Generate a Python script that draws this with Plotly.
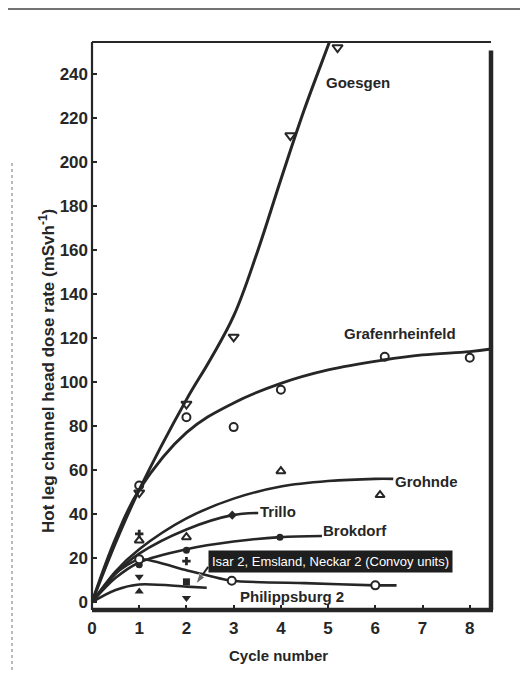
import plotly.graph_objects as go

# ---- data ----
# fitted curves
goesgen_cx = [0, 0.5, 1, 2, 2.5, 3, 3.5, 4, 4.5, 5.02, 5.12]
goesgen_cy = [0, 27, 51, 92, 110, 130, 159, 192, 224, 254, 260]
graf_cx = [0, 0.5, 1, 2, 3, 4, 5, 6.17, 7, 8, 8.45]
graf_cy = [0, 29, 51, 77, 90.5, 99.4, 105.5, 110, 112.3, 113.8, 115]
grohnde_cx = [0, 0.5, 1, 2, 3, 4, 5, 6, 6.38]
grohnde_cy = [0, 14, 24, 38, 47, 52.5, 55, 56, 56]
trillo_cx = [0, 0.5, 1, 2, 2.97, 3.52]
trillo_cy = [0, 13, 22, 33, 39.5, 40.5]
brokdorf_cx = [0, 0.5, 1, 2, 3, 3.98, 4.87]
brokdorf_cy = [0, 11, 18, 24, 27.5, 29.5, 30]
phil_cx = [0, 0.5, 1, 2, 2.96, 4.5, 6.0, 6.45]
phil_cy = [0, 13, 19.5, 14.5, 9.7, 8.6, 7.6, 7.6]
convoy_cx = [0, 0.5, 1, 2, 2.43]
convoy_cy = [0, 5.5, 8, 7, 6.5]

# measured points
goesgen_x = [1, 2, 3, 4.2, 5.2]
goesgen_y = [49.7, 90, 120.5, 212, 252]
graf_x = [1, 2, 3, 4, 6.2, 8.0]
graf_y = [53, 84, 79.5, 96.5, 111.5, 111]
grohnde_x = [1, 2, 4, 6.1]
grohnde_y = [28, 29.5, 59.5, 48.6]
trillo_x = [2.97]
trillo_y = [39.5]
brokdorf_x = [1, 2, 3.98]
brokdorf_y = [17, 23.5, 29.5]
phil_x = [1, 2.96, 6.0]
phil_y = [19.5, 9.7, 7.6]
convoy_down_x = [1, 2]
convoy_down_y = [11.5, 1.8]
convoy_up_x = [1]
convoy_up_y = [4.8]
convoy_sq_x = [2]
convoy_sq_y = [9.2]
convoy_plus_x = [1, 2]
convoy_plus_y = [31, 18.6]

series_labels = ["Goesgen", "Grafenrheinfeld", "Grohnde", "Trillo", "Brokdorf",
                 "Philippsburg 2", "Isar 2, Emsland, Neckar 2 (Convoy units)"]
label_x = [5.64, 6.53, 7.08, 3.94, 5.57, 4.23, 5.06]
label_y = [236, 122, 55, 41, 32.3, 2.4, 18.3]
# pointer from the convoy label box to the convoy curve (tail, head)
pointer_x = [2.46, 2.2]
pointer_y = [16.0, 8.2]

x_ticks = [0, 1, 2, 3, 4, 5, 6, 7, 8]
y_ticks = list(range(0, 241, 20))

INK = "#262626"
FONT = "Liberation Sans, Arial, sans-serif"

fig = go.Figure()

def curve(x, y, w=2.6, smooth=0.9):
    fig.add_trace(go.Scatter(x=x, y=y, mode="lines",
                             line=dict(color=INK, width=w, shape="spline", smoothing=smooth),
                             hoverinfo="skip", showlegend=False))

curve(goesgen_cx, goesgen_cy, w=3, smooth=1.1)
curve(graf_cx, graf_cy, w=2.8, smooth=1.1)
curve(grohnde_cx, grohnde_cy)
curve(trillo_cx, trillo_cy)
curve(brokdorf_cx, brokdorf_cy)
curve(phil_cx, phil_cy, smooth=0.6)
curve(convoy_cx, convoy_cy)

fig.add_trace(go.Scatter(x=goesgen_x, y=goesgen_y, mode="markers",
                         marker=dict(symbol="triangle-down-open", size=9, color=INK, line=dict(width=2)),
                         showlegend=False, cliponaxis=False))
fig.add_trace(go.Scatter(x=graf_x, y=graf_y, mode="markers",
                         marker=dict(symbol="circle-open", size=8, color=INK, line=dict(width=2)),
                         showlegend=False))
fig.add_trace(go.Scatter(x=grohnde_x, y=grohnde_y, mode="markers",
                         marker=dict(symbol="triangle-up-open", size=8, color=INK, line=dict(width=2)),
                         showlegend=False))
fig.add_trace(go.Scatter(x=trillo_x, y=trillo_y, mode="markers",
                         marker=dict(symbol="diamond", size=7, color=INK),
                         showlegend=False))
fig.add_trace(go.Scatter(x=brokdorf_x, y=brokdorf_y, mode="markers",
                         marker=dict(symbol="circle", size=7, color=INK),
                         showlegend=False))
fig.add_trace(go.Scatter(x=phil_x, y=phil_y, mode="markers",
                         marker=dict(symbol="circle", size=8, color="white", line=dict(color=INK, width=2)),
                         showlegend=False))
fig.add_trace(go.Scatter(x=convoy_down_x, y=convoy_down_y, mode="markers",
                         marker=dict(symbol="triangle-down", size=8, color=INK),
                         showlegend=False))
fig.add_trace(go.Scatter(x=convoy_up_x, y=convoy_up_y, mode="markers",
                         marker=dict(symbol="triangle-up", size=8, color=INK),
                         showlegend=False))
fig.add_trace(go.Scatter(x=convoy_sq_x, y=convoy_sq_y, mode="markers",
                         marker=dict(symbol="square", size=7, color=INK),
                         showlegend=False))
fig.add_trace(go.Scatter(x=convoy_plus_x, y=convoy_plus_y, mode="markers",
                         marker=dict(symbol="cross", size=7, color=INK),
                         showlegend=False))
# pointer arrow
fig.add_trace(go.Scatter(x=pointer_x, y=pointer_y, mode="lines+markers",
                         line=dict(color=INK, width=2),
                         marker=dict(symbol=["circle", "arrow"], size=[0, 11], color=INK,
                                     angleref="previous", standoff=0),
                         hoverinfo="skip", showlegend=False))

annotations = []
for i in range(6):
    annotations.append(dict(x=label_x[i], y=label_y[i], xref="x", yref="y",
                            text=series_labels[i], showarrow=False,
                            font=dict(family=FONT, size=15, color=INK, weight="bold")))
# convoy box label
annotations.append(dict(x=label_x[6], y=label_y[6], xref="x", yref="y",
                        text=series_labels[6], showarrow=False,
                        font=dict(family=FONT, size=13, color="white"),
                        bgcolor="#1e1e1e", borderpad=3))
W, H = 399, 568
# axis titles
annotations.append(dict(x=(278 - 92) / W, y=(610 - 655) / H, xref="paper", yref="paper",
                        xanchor="center", yanchor="middle",
                        text="Cycle number", showarrow=False,
                        font=dict(family=FONT, size=15, color=INK, weight="bold")))
annotations.append(dict(x=(47 - 92) / W, y=(610 - 371) / H, xref="paper", yref="paper",
                        xanchor="center", yanchor="middle",
                        text="Hot leg channel head dose rate (mSvh<sup>-1</sup>)", showarrow=False,
                        textangle=-90,
                        font=dict(family=FONT, size=17, color=INK, weight="bold")))

shapes = [
    # frame
    dict(type="line", xref="paper", yref="paper", x0=0, x1=0, y0=0, y1=1, line=dict(color=INK, width=2.2)),
    dict(type="line", xref="paper", yref="paper", x0=0, x1=1.005, y0=0, y1=0, line=dict(color=INK, width=4.5)),
    dict(type="line", xref="paper", yref="paper", x0=1, x1=1, y0=0, y1=0.985, line=dict(color=INK, width=4.5)),
    dict(type="line", xref="paper", yref="paper", x0=0, x1=1, y0=1, y1=1, line=dict(color=INK, width=2)),
    # page edge line at top of scan
    dict(type="line", xref="paper", yref="paper", x0=(8 - 92) / W, x1=(520 - 92) / W,
         y0=(610 - 9) / H, y1=(610 - 9) / H, line=dict(color="#444", width=1.5)),
    # dotted scan line at left
    dict(type="line", xref="paper", yref="paper", x0=(12 - 92) / W, x1=(12 - 92) / W,
         y0=(610 - 670) / H, y1=(610 - 160) / H, line=dict(color="#777", width=1, dash="dot")),
]

fig.update_layout(
    width=520, height=677,
    margin=dict(l=92, r=29, t=42, b=67),
    paper_bgcolor="white", plot_bgcolor="white",
    showlegend=False,
    annotations=annotations,
    shapes=shapes,
    xaxis=dict(range=[0, 8.45], tickvals=x_ticks, ticktext=[str(v) for v in x_ticks],
               ticks="inside", ticklen=5, tickwidth=1.5, tickcolor=INK,
               showgrid=False, zeroline=False, showline=False, automargin=False,
               tickfont=dict(family=FONT, size=17, color=INK, weight="bold"),
               ticklabelstandoff=6),
    yaxis=dict(range=[-3.6, 254.5], tickvals=y_ticks, ticktext=[str(v) for v in y_ticks],
               ticks="inside", ticklen=5, tickwidth=1.5, tickcolor=INK,
               showgrid=False, zeroline=False, showline=False, automargin=False,
               tickfont=dict(family=FONT, size=17, color=INK, weight="bold"),
               ticklabelstandoff=3),
)

fig.write_html("out.html", config={"displayModeBar": False},
               post_script="document.body.style.margin='0px';")
